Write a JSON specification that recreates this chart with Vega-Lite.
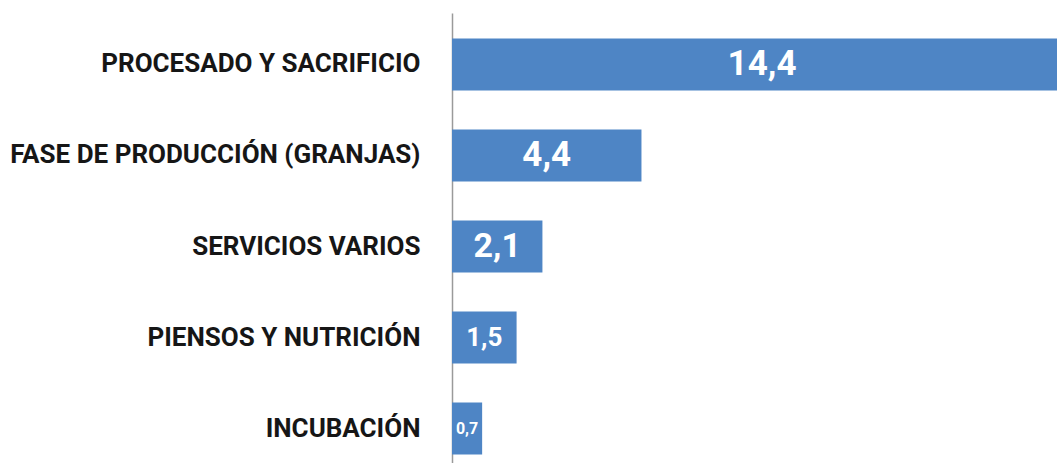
{
  "$schema": "https://vega.github.io/schema/vega-lite/v6.json",
  "autosize": "none",
  "width": 605,
  "height": 467,
  "padding": {"left": 452, "top": 13, "right": 0, "bottom": 0},
  "background": "#ffffff",
  "data": {
    "values": [
      {"fase": "PROCESADO Y SACRIFICIO", "valor": 14.4, "etiqueta": "14,4"},
      {"fase": "FASE DE PRODUCCIÓN (GRANJAS)", "valor": 4.4, "etiqueta": "4,4"},
      {"fase": "SERVICIOS VARIOS", "valor": 2.1, "etiqueta": "2,1"},
      {"fase": "PIENSOS Y NUTRICIÓN", "valor": 1.5, "etiqueta": "1,5"},
      {"fase": "INCUBACIÓN", "valor": 0.7, "etiqueta": "0,7"}
    ]
  },
  "encoding": {
    "y": {
      "field": "fase",
      "type": "nominal",
      "sort": null,
      "title": null,
      "scale": {"paddingInner": 0.43, "paddingOuter": 0.28},
      "axis": {
        "ticks": false,
        "labelPadding": 32,
        "labelFont": "Roboto",
        "labelFontWeight": "bold",
        "labelFontSize": 26,
        "labelColor": "#161616",
        "labelLimit": 600,
        "domainColor": "#9a9a9a",
        "domainWidth": 1.5,
        "grid": false
      }
    }
  },
  "layer": [
    {
      "mark": {"type": "bar", "color": "#4E85C5", "clip": true},
      "encoding": {
        "x": {"field": "valor", "type": "quantitative", "scale": {"domain": [0, 14.05]}, "axis": null}
      }
    },
    {
      "mark": {"type": "text", "color": "#ffffff", "font": "Roboto", "fontWeight": "bold", "align": "center", "baseline": "middle"},
      "encoding": {
        "x": {"field": "valor", "type": "quantitative", "scale": {"domain": [0, 28.1]}, "axis": null},
        "text": {"field": "etiqueta", "type": "nominal"},
        "size": {"field": "valor", "type": "quantitative", "scale": {"type": "linear", "domain": [0.7, 1.5, 2.1, 4.4], "range": [16, 26, 34, 35], "clamp": true}, "legend": null}
      }
    }
  ],
  "resolve": {"scale": {"x": "independent"}},
  "config": {"view": {"stroke": null}}
}
